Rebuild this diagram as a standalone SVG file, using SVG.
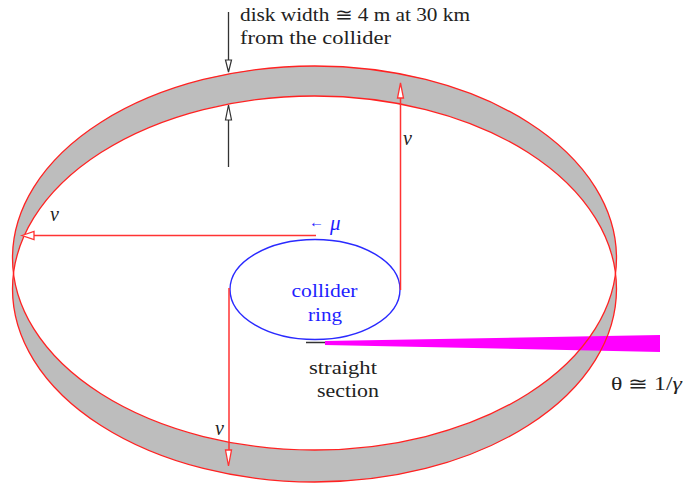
<svg xmlns="http://www.w3.org/2000/svg" width="683" height="484" viewBox="0 0 683 484">
<style>
.t{font-family:"Liberation Serif","DejaVu Serif",serif;font-size:18px;fill:#222}
.b{fill:#1f1fff}
.i{font-style:italic}
.r{fill:none;stroke:#f33;stroke-width:1.5}
.k{fill:none;stroke:#333;stroke-width:1.3}
.hr{fill:#fff;stroke:#f33;stroke-width:1.3}
.hk{fill:#fff;stroke:#333;stroke-width:1.2}
</style>
<rect width="683" height="484" fill="#fff"/>
<g id="disk-band">
<path fill="#bdbdbd" fill-rule="evenodd" d="M12.500 258a302 192 0 1 1 604 0a302 192 0 1 1 -604 0zM12.500 289a302 193 0 1 1 604 0a302 193 0 1 1 -604 0z"/>
</g>
<g id="beam">
<polygon points="325,341 660,335 660,352 325,345" fill="#f0f"/>
<line x1="306" y1="342.500" x2="325" y2="342.500" stroke="#333" stroke-width="1.5"/>
</g>
<g id="disk-outline">
<ellipse cx="314.500" cy="258" rx="302" ry="192" fill="none" stroke="#f22" stroke-width="1.3"/>
<ellipse cx="314.500" cy="289" rx="302" ry="193" fill="none" stroke="#f22" stroke-width="1.3"/>
</g>
<g id="collider-ring">
<ellipse cx="315" cy="289.500" rx="85" ry="50" fill="none" stroke="#2a2aff" stroke-width="1.4"/>
<text class="t b" x="324.500" y="297" text-anchor="middle" textLength="66" lengthAdjust="spacingAndGlyphs">collider</text>
<text class="t b" x="325" y="321" text-anchor="middle" textLength="34" lengthAdjust="spacingAndGlyphs">ring</text>
</g>
<g id="connectors">
<path class="r" d="M316 235.500H34"/>
<polygon class="hr" points="22,235.500 34,231.500 34,239.500"/>
<path class="r" d="M400.500 290V98"/>
<polygon class="hr" points="400.500,83 403.500,98 397.500,98"/>
<path class="r" d="M229 288V450"/>
<polygon class="hr" points="228.500,466 225.500,450 231.500,450"/>
<path class="k" d="M228.500 12V60"/>
<polygon class="hk" points="228.500,72 225.500,60 231.500,60"/>
<path class="k" d="M228.500 120V167"/>
<polygon class="hk" points="228.500,105 225.500,120 231.500,120"/>
</g>
<g id="labels">
<text class="t" x="240" y="21" textLength="230" lengthAdjust="spacingAndGlyphs">disk width ≅ 4 m at 30 km</text>
<text class="t" x="240" y="44" textLength="151" lengthAdjust="spacingAndGlyphs">from the collider</text>
<text class="t i" x="403" y="145" style="font-size:20px">ν</text>
<text class="t i" x="50" y="221" style="font-size:20px">ν</text>
<text class="t i" x="215" y="435" style="font-size:20px">ν</text>
<text class="t b" x="309" y="227" style="font-size:15px">←</text>
<text class="t b i" x="330" y="230" style="font-size:21px">μ</text>
<text class="t" x="309" y="374" textLength="68" lengthAdjust="spacingAndGlyphs">straight</text>
<text class="t" x="317" y="397" textLength="62" lengthAdjust="spacingAndGlyphs">section</text>
<text class="t" x="611" y="390" textLength="71" lengthAdjust="spacingAndGlyphs">θ ≅ 1/<tspan class="i">γ</tspan></text>
</g>
</svg>
